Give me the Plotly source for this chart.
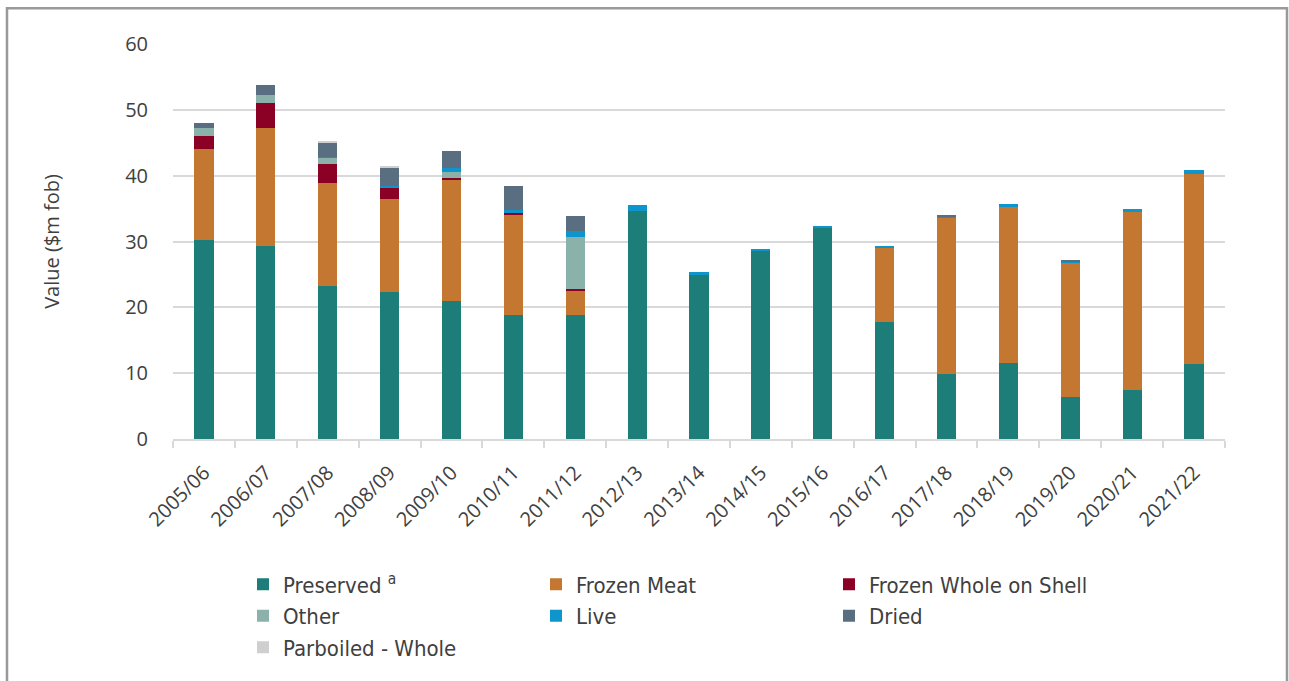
import plotly.graph_objects as go

years = ["2005/06", "2006/07", "2007/08", "2008/09", "2009/10", "2010/11", "2011/12",
         "2012/13", "2013/14", "2014/15", "2015/16", "2016/17", "2017/18", "2018/19",
         "2019/20", "2020/21", "2021/22"]

preserved = [30.3, 29.3, 23.3, 22.4, 20.9, 18.9, 18.9, 34.7, 24.9, 28.6, 32.2, 17.8, 9.9, 11.6, 6.4, 7.4, 11.4]
frozen_meat = [13.7, 17.9, 15.6, 14.0, 18.4, 15.2, 3.7, 0, 0, 0, 0, 11.3, 23.8, 23.7, 20.4, 27.1, 28.9]
frozen_whole = [2.1, 3.9, 2.9, 1.8, 0.4, 0.3, 0.2, 0, 0, 0, 0, 0, 0, 0, 0, 0, 0]
other = [1.1, 1.1, 0.9, 0, 0.8, 0, 7.9, 0, 0, 0, 0, 0, 0, 0, 0, 0, 0]
live = [0, 0, 0.2, 0.3, 0.6, 0.4, 0.9, 0.8, 0.4, 0.2, 0.1, 0.2, 0.1, 0.4, 0.1, 0.4, 0.5]
dried = [0.8, 1.6, 2.1, 2.7, 2.6, 3.6, 2.2, 0, 0, 0, 0, 0, 0.2, 0, 0.2, 0, 0]
parboiled = [0, 0, 0.15, 0.15, 0, 0, 0, 0, 0, 0, 0, 0, 0, 0, 0, 0, 0]

series = [
    ("Preserved <sup>a</sup>", preserved, "#1c7d79"),
    ("Frozen Meat", frozen_meat, "#c47730"),
    ("Frozen Whole on Shell", frozen_whole, "#8b0025"),
    ("Other", other, "#8bb1ab"),
    ("Live", live, "#0d95cc"),
    ("Dried", dried, "#5a6e82"),
    ("Parboiled - Whole", parboiled, "#cfcfcf"),
]

fig = go.Figure()
for name, vals, color in series:
    fig.add_trace(go.Bar(x=years, y=vals, name=name, marker=dict(color=color, line=dict(width=0))))

L, R, T, B = 173, 64, 44, 240
W, H = 1289, 681
pw, ph = W - L - R, H - T - B

def px_x(p):
    return (p - L) / pw

def px_y(p):
    return (H - B - p) / ph

fig.update_layout(
    width=W, height=H,
    barmode="stack",
    bargap=0.69,
    plot_bgcolor="white", paper_bgcolor="white",
    margin=dict(l=L, r=R, t=T, b=B),
    font=dict(family="Open Sans", color="#404040"),
    xaxis=dict(
        type="category",
        range=[-0.5, 16.5],
        showgrid=False,
        showline=True, linecolor="#d9d9d9", linewidth=2,
        ticks="outside", tickson="boundaries", ticklen=7, tickcolor="#d9d9d9", tickwidth=2,
        tickangle=-45,
        ticklabelstandoff=12,
        tickfont=dict(family="Open Sans", size=20, color="#404040"),
    ),
    yaxis=dict(
        range=[0, 60], dtick=10,
        showgrid=True, gridcolor="#d9d9d9", gridwidth=1.5,
        zeroline=False, showline=False,
        ticks="outside", ticklen=20, tickcolor="rgba(0,0,0,0)",
        tickfont=dict(family="Open Sans", size=20, color="#404040"),
        title=dict(text="Value ($m fob)", font=dict(family="Open Sans", size=20, color="#404040"), standoff=60),
    ),
    legend=dict(
        orientation="h",
        x=px_x(243), xanchor="left",
        y=px_y(566), yanchor="top",
        entrywidth=248, entrywidthmode="pixels",
        traceorder="normal",
        font=dict(family="DejaVu Sans Condensed", size=22, color="#404040"),
        bgcolor="rgba(0,0,0,0)",
    ),
    shapes=[dict(
        type="rect", xref="paper", yref="paper",
        x0=px_x(7), x1=px_x(1287), y0=px_y(695), y1=px_y(8),
        line=dict(color="#999999", width=2.5), fillcolor="rgba(0,0,0,0)", layer="below",
    )],
)

fig.write_html("out.html")
